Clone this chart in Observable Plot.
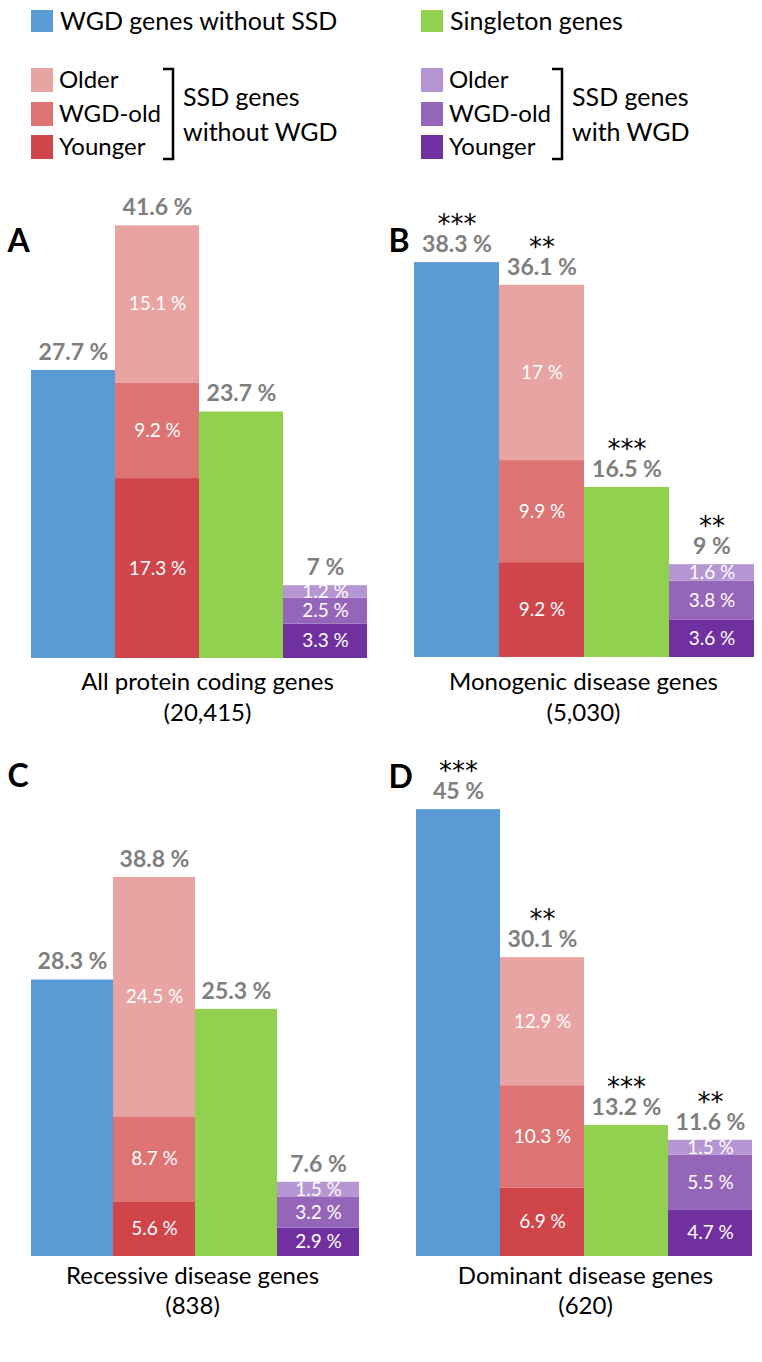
<!DOCTYPE html>
<html>
<head>
<meta charset="utf-8">
<script src="https://cdn.jsdelivr.net/npm/d3@7"></script>
<script src="https://cdn.jsdelivr.net/npm/@observablehq/plot@0.6"></script>
<style>
  body { margin: 0; background: #fff; font-family: Lato, sans-serif; }
  #root { position: relative; width: 762px; height: 1362px; overflow: hidden; background: #fff; }
  .abs { position: absolute; }
</style>
</head>
<body>
<div id="root"></div>
<script>
// ---------------- DATA ----------------
const panelLetters = ["A", "B", "C", "D"];
const panelTitles = ["All protein coding genes", "Monogenic disease genes", "Recessive disease genes", "Dominant disease genes"];
const panelCounts = ["(20,415)", "(5,030)", "(838)", "(620)"];

const groups = ["WGD genes without SSD", "SSD genes without WGD", "Singleton genes", "SSD genes with WGD"];

const wgdWithoutSsd   = [27.7, 38.3, 28.3, 45];
const ssdNoWgdYounger = [17.3, 9.2, 5.6, 6.9];
const ssdNoWgdWgdOld  = [9.2, 9.9, 8.7, 10.3];
const ssdNoWgdOlder   = [15.1, 17, 24.5, 12.9];
const ssdNoWgdTotal   = [41.6, 36.1, 38.8, 30.1];
const singleton       = [23.7, 16.5, 25.3, 13.2];
const ssdWgdYounger   = [3.3, 3.6, 2.9, 4.7];
const ssdWgdWgdOld    = [2.5, 3.8, 3.2, 5.5];
const ssdWgdOlder     = [1.2, 1.6, 1.5, 1.5];
const ssdWgdTotal     = [7, 9, 7.6, 11.6];

const significance = [
  ["", "", "", ""],
  ["***", "**", "***", "**"],
  ["", "", "", ""],
  ["***", "**", "***", "**"]
];

const segmentKeys   = ["wgd", "ssdYounger", "ssdWgdOld", "ssdOlder", "singleton", "pYounger", "pWgdOld", "pOlder"];
const segmentColors = ["#5B9BD5", "#D0454A", "#DE7373", "#E8A3A3", "#92D050", "#7030A0", "#9565B9", "#B596D3"];

const legendAgeLabels = ["Older", "WGD-old", "Younger"];

// ---------------- LAYOUT (styles only) ----------------
const layout = [
  { left: 0,   top: 170, height: 560, xRange: [31, 367], base: 488, scale: 10.4,  letterY: 71, titleX: 207, titleY: 512, countY: 543 },
  { left: 381, top: 170, height: 560, xRange: [33, 373], base: 487, scale: 10.31, letterY: 71, titleX: 202, titleY: 512, countY: 543 },
  { left: 0,   top: 740, height: 590, xRange: [31, 359], base: 516, scale: 9.77,  letterY: 36, titleX: 192, titleY: 536, countY: 566 },
  { left: 381, top: 740, height: 590, xRange: [33, 372], base: 516, scale: 9.93,  letterY: 37, titleX: 204, titleY: 536, countY: 566 }
];

const root = document.getElementById("root");
const fmt = v => `${v} %`;

// ---------------- LEGEND ----------------
(function legend() {
  const svg = d3.create("svg").attr("width", 762).attr("height", 165)
    .attr("class", "abs").style("left", "0px").style("top", "0px")
    .style("font-family", "Lato, sans-serif");
  const fs = 25, fsAge = 24;
  const topItems = [
    { color: segmentColors[0], label: groups[0], x: 31 },
    { color: segmentColors[4], label: groups[2], x: 421 }
  ];
  topItems.forEach(it => {
    svg.append("rect").attr("x", it.x).attr("y", 10).attr("width", 22).attr("height", 22).attr("fill", it.color);
    svg.append("text").attr("x", it.x + 29).attr("y", 21).attr("dy", "0.35em").attr("font-size", fs).attr("fill", "#000").text(it.label);
  });
  const blocks = [
    { x: 31, colors: [segmentColors[3], segmentColors[2], segmentColors[1]], bx: 163, lines: ["SSD genes", "without WGD"] },
    { x: 421, colors: [segmentColors[7], segmentColors[6], segmentColors[5]], bx: 552, lines: ["SSD genes", "with WGD"] }
  ];
  const rowsY = [80, 114, 147];
  blocks.forEach(b => {
    legendAgeLabels.forEach((lab, i) => {
      svg.append("rect").attr("x", b.x).attr("y", rowsY[i] - 12).attr("width", 22).attr("height", 24).attr("fill", b.colors[i]);
      svg.append("text").attr("x", b.x + 28).attr("y", rowsY[i]).attr("dy", "0.35em").attr("font-size", fsAge).attr("fill", "#000").text(lab);
    });
    svg.append("path")
      .attr("d", `M${b.bx},69 H${b.bx + 10} V159 H${b.bx}`)
      .attr("fill", "none").attr("stroke", "#000").attr("stroke-width", 2.5);
    svg.append("text").attr("x", b.bx + 20).attr("y", 97).attr("dy", "0.35em").attr("font-size", fs).text(b.lines[0]);
    svg.append("text").attr("x", b.bx + 20).attr("y", 132).attr("dy", "0.35em").attr("font-size", fs).text(b.lines[1]);
  });
  root.appendChild(svg.node());
})();

// ---------------- PANELS ----------------
panelLetters.forEach((letter, i) => {
  const L = layout[i];
  const seg = [];
  const stack = (group, parts) => {
    let acc = 0;
    parts.forEach(([key, value, labelled]) => {
      seg.push({ group, key, value, y1: acc, y2: acc + value, label: labelled ? fmt(value) : "" });
      acc += value;
    });
  };
  stack(groups[0], [["wgd", wgdWithoutSsd[i], false]]);
  stack(groups[1], [["ssdYounger", ssdNoWgdYounger[i], true], ["ssdWgdOld", ssdNoWgdWgdOld[i], true], ["ssdOlder", ssdNoWgdOlder[i], true]]);
  stack(groups[2], [["singleton", singleton[i], false]]);
  stack(groups[3], [["pYounger", ssdWgdYounger[i], true], ["pWgdOld", ssdWgdWgdOld[i], true], ["pOlder", ssdWgdOlder[i], true]]);

  const totalsRow = [wgdWithoutSsd[i], ssdNoWgdTotal[i], singleton[i], ssdWgdTotal[i]];
  const tops = groups.map((g, j) => ({
    group: g,
    total: totalsRow[j],
    top: d3.max(seg.filter(s => s.group === g), s => s.y2),
    stars: significance[i][j]
  }));

  const chart = Plot.plot({
    width: 381,
    height: L.height,
    margin: 0,
    style: { fontFamily: "Lato, sans-serif", background: "transparent", overflow: "visible" },
    x: { type: "band", domain: groups, range: L.xRange, padding: 0, axis: null },
    y: { domain: [0, 100], range: [L.base, L.base - 100 * L.scale], axis: null },
    color: { domain: segmentKeys, range: segmentColors },
    marks: [
      Plot.barY(seg, { x: "group", y1: "y1", y2: "y2", fill: "key", inset: 0 }),
      Plot.text(seg.filter(d => d.label), {
        x: "group", y: d => (d.y1 + d.y2) / 2, text: "label",
        fill: "white", fontSize: 19
      }),
      Plot.text(tops, {
        x: "group", y: "top", text: d => fmt(d.total), dy: -18,
        fill: "#7F7F7F", fontWeight: "bold", fontSize: 23
      }),
      Plot.text(tops.filter(d => d.stars), {
        x: "group", y: "top", text: "stars", dy: -38,
        fill: "#000", fontSize: 26, fontFamily: "DejaVu Sans", ariaLabel: "stars"
      }),
      Plot.text([letter], {
        frameAnchor: "top-left", text: d => d, dx: 7, dy: L.letterY,
        textAnchor: "start", lineAnchor: "middle",
        fontWeight: "bold", fontSize: 32, fill: "#000"
      }),
      Plot.text([panelTitles[i]], {
        frameAnchor: "top-left", text: d => d, dx: L.titleX, dy: L.titleY,
        textAnchor: "middle", lineAnchor: "middle", fontSize: 24, fill: "#000"
      }),
      Plot.text([panelCounts[i]], {
        frameAnchor: "top-left", text: d => d, dx: L.titleX, dy: L.countY,
        textAnchor: "middle", lineAnchor: "middle", fontSize: 24, fill: "#000"
      })
    ]
  });
  chart.querySelectorAll('g[aria-label="stars"] text').forEach(t => t.setAttribute("letter-spacing", "2"));
  chart.classList.add("abs");
  chart.style.left = L.left + "px";
  chart.style.top = L.top + "px";
  root.appendChild(chart);
});
</script>
</body>
</html>
